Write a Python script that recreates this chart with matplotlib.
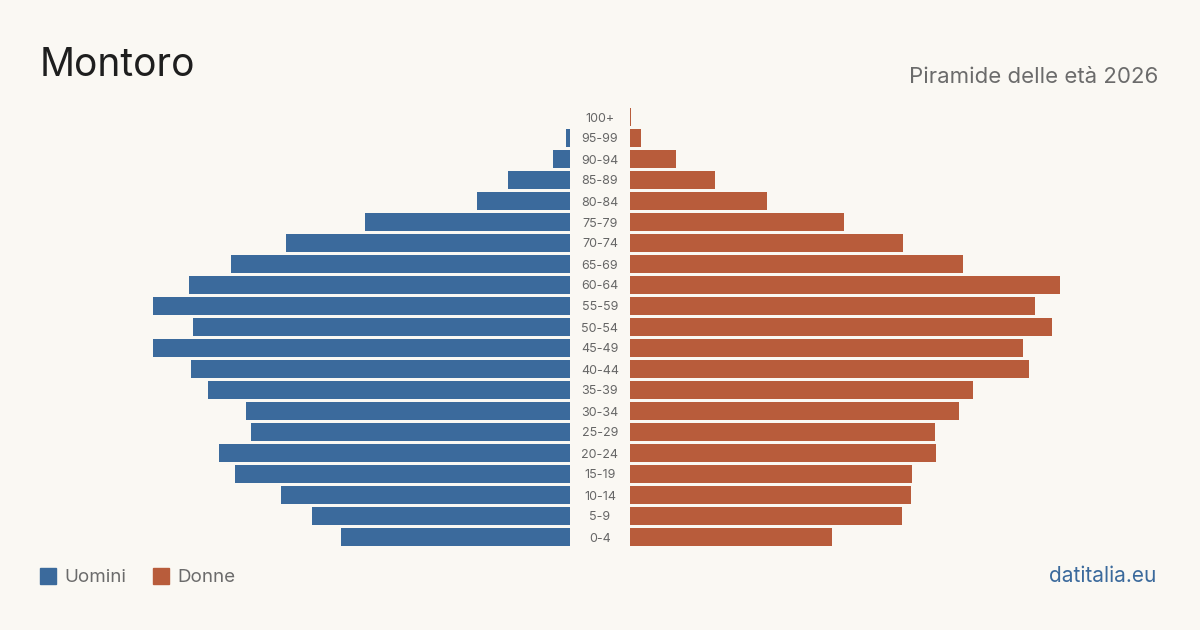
import matplotlib.pyplot as plt
import numpy as np

plt.rcParams['font.family'] = ['Inter', 'DejaVu Sans']

age_groups = ["0-4", "5-9", "10-14", "15-19", "20-24", "25-29", "30-34", "35-39",
              "40-44", "45-49", "50-54", "55-59", "60-64", "65-69", "70-74",
              "75-79", "80-84", "85-89", "90-94", "95-99", "100+"]
uomini = [229, 258, 289, 335, 351, 319, 324, 362, 379, 417, 377, 417, 381,
          339, 284, 205, 93, 62, 17, 4, 0]
donne = [202, 272, 281, 282, 306, 305, 329, 343, 399, 393, 422, 405, 430,
         333, 273, 214, 137, 85, 46, 11, 1]

bg = '#faf8f3'
blue = '#3b6a9c'
orange = '#b85c3b'

fig = plt.figure(figsize=(12, 6.3), dpi=100, facecolor=bg)
W, H = 1200, 630
top_px, bot_px = 106.5, 547.5
span = 430
axL = fig.add_axes([(570 - span) / W, (H - bot_px) / H, span / W, (bot_px - top_px) / H])
axR = fig.add_axes([630 / W, (H - bot_px) / H, span / W, (bot_px - top_px) / H])

y = np.arange(len(age_groups))
axL.barh(y, uomini, height=0.81, color=blue)
axR.barh(y, donne, height=0.81, color=orange)
axL.set_xlim(span, 0)
axR.set_xlim(0, span)
for ax in (axL, axR):
    ax.set_ylim(-0.5, len(age_groups) - 0.5)
    ax.axis('off')
    ax.set_facecolor(bg)

for i, lab in enumerate(age_groups):
    fig.text(600 / W, 1 - (bot_px + 1.5 - (i + 0.5) * (bot_px - top_px) / len(age_groups)) / H,
             lab, ha='center', va='center', fontsize=9, color='#666666')

fig.text(40 / W, 1 - 66 / H, "Montoro", fontsize=28, color='#1e1e1e', va='center', ha='left')
fig.text(1158 / W, 1 - 77 / H, "Piramide delle età 2026", fontsize=16, color='#6b6b6b',
         va='center', ha='right')

fig.patches.append(plt.Rectangle((40 / W, 1 - 584 / H), 16 / W, 16 / H,
                                 transform=fig.transFigure, color=blue, figure=fig))
fig.text(64 / W, 1 - 577 / H, "Uomini", fontsize=13.5, color='#6b6b6b', va='center')
fig.patches.append(plt.Rectangle((153 / W, 1 - 584 / H), 16 / W, 16 / H,
                                 transform=fig.transFigure, color=orange, figure=fig))
fig.text(177 / W, 1 - 577 / H, "Donne", fontsize=13.5, color='#6b6b6b', va='center')

fig.text(1156 / W, 1 - 576 / H, "datitalia.eu", fontsize=15, color=blue, va='center', ha='right')

fig.savefig('out.png', dpi=100, facecolor=bg)
